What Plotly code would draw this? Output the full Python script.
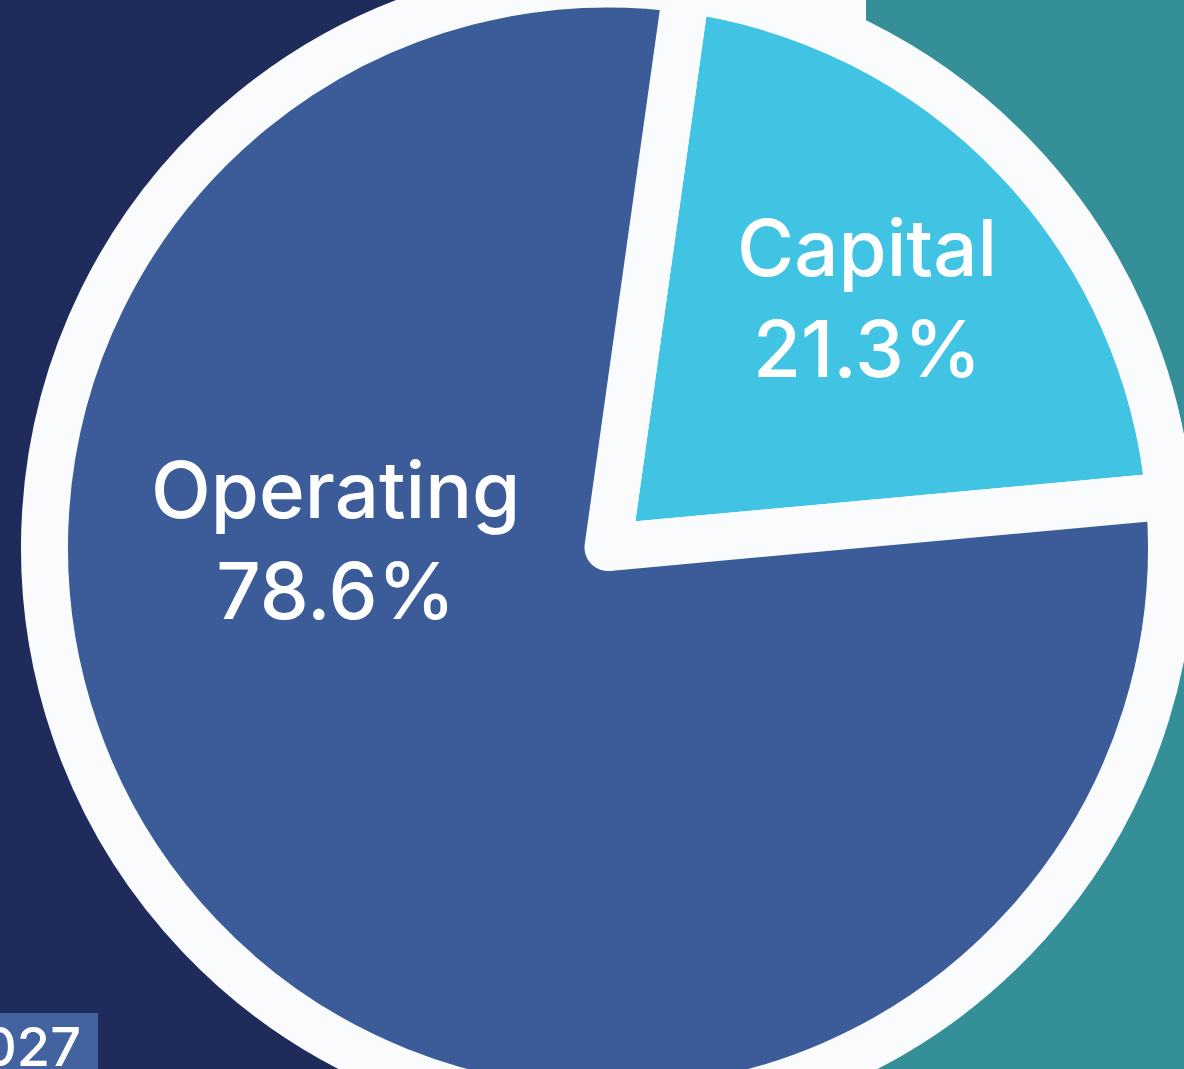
import plotly.graph_objects as go

# ---- data ----
categories = ["Capital", "Operating"]
shares = [21.3, 78.6]          # percent of total
slice_colors = ["#41C4E3", "#3B5C98"]
corner_label = "027"

W, H = 1184, 1127          # figure is a bit taller than the window; it is shifted up 16px
SHIFT = 16
NAVY = "#1F2B5B"
TEAL = "#348F98"
WHITE = "#FAFBFC"


def px_x(x):
    return x / W


def px_y(y_view):
    # viewport pixel (from top) -> paper coordinate
    return 1 - (y_view + SHIFT) / H


fig = go.Figure(
    go.Pie(
        labels=categories,
        values=shares,
        sort=False,
        direction="clockwise",
        rotation=8,
        domain=dict(x=[0.0375, 0.9895], y=[0.0, 1.0]),
        marker=dict(colors=slice_colors, line=dict(color=WHITE, width=47)),
        textinfo="none",
        hoverinfo="label+value",
    )
)

label_pos = {"Capital": (867, 298), "Operating": (335, 540)}
annotations = []
for cat, val in zip(categories, shares):
    x, y = label_pos[cat]
    annotations.append(dict(
        text=f"{cat}<br>{val:.1f}%", xref="paper", yref="paper",
        x=px_x(x), y=px_y(y), xanchor="center", yanchor="middle", showarrow=False,
        font=dict(family="Inter", size=78, color="white", weight=500),
    ))

annotations.append(dict(
    text=corner_label, xref="paper", yref="paper", x=-20 / W, y=30 / H,
    xanchor="left", yanchor="bottom", showarrow=False,
    font=dict(family="Inter", size=54, color="white", weight=500),
))

fig.update_layout(
    width=W,
    height=H,
    margin=dict(l=0, r=0, t=0, b=0),
    paper_bgcolor=NAVY,
    plot_bgcolor=NAVY,
    showlegend=False,
    font=dict(family="Inter", color="white"),
    shapes=[
        dict(type="rect", xref="paper", yref="paper", x0=866 / W, x1=1.0, y0=0, y1=1,
             fillcolor=TEAL, line=dict(width=0), layer="below"),
        dict(type="rect", xref="paper", yref="paper", x0=0.55, x1=866 / W, y0=px_y(22), y1=1,
             fillcolor=WHITE, line=dict(width=0), layer="below"),
        dict(type="rect", xref="paper", yref="paper", x0=0, x1=98 / W, y0=0, y1=px_y(1013),
             fillcolor="#4263A0", line=dict(width=0), layer="below"),
    ],
    annotations=annotations,
)

post = (
    "document.body.style.margin='0';"
    "document.body.style.overflow='hidden';"
    "var gd=document.getElementById('{plot_id}');"
    "gd.style.marginTop='-%dpx';" % SHIFT
)

fig.write_html("out.html", post_script=post, config={"displayModeBar": False})
